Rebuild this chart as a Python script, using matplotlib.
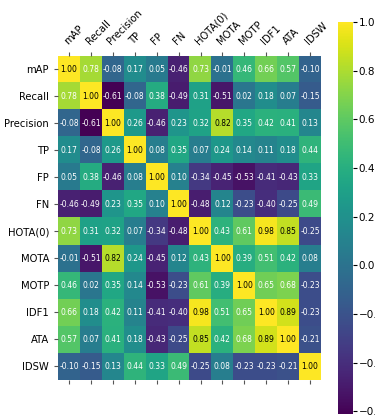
import numpy as np
import matplotlib
matplotlib.use("Agg")
import matplotlib.pyplot as plt

labels = ["mAP", "Recall", "Precision", "TP", "FP", "FN",
          "HOTA(0)", "MOTA", "MOTP", "IDF1", "ATA", "IDSW"]

# correlation rows
row_map = [1.00, 0.78, -0.08, 0.17, 0.05, -0.46, 0.73, -0.01, 0.46, 0.66, 0.57, -0.10]
row_recall = [0.78, 1.00, -0.61, -0.08, 0.38, -0.49, 0.31, -0.51, 0.02, 0.18, 0.07, -0.15]
row_precision = [-0.08, -0.61, 1.00, 0.26, -0.46, 0.23, 0.32, 0.82, 0.35, 0.42, 0.41, 0.13]
row_tp = [0.17, -0.08, 0.26, 1.00, 0.08, 0.35, 0.07, 0.24, 0.14, 0.11, 0.18, 0.44]
row_fp = [0.05, 0.38, -0.46, 0.08, 1.00, 0.10, -0.34, -0.45, -0.53, -0.41, -0.43, 0.33]
row_fn = [-0.46, -0.49, 0.23, 0.35, 0.10, 1.00, -0.48, 0.12, -0.23, -0.40, -0.25, 0.49]
row_hota = [0.73, 0.31, 0.32, 0.07, -0.34, -0.48, 1.00, 0.43, 0.61, 0.98, 0.85, -0.25]
row_mota = [-0.01, -0.51, 0.82, 0.24, -0.45, 0.12, 0.43, 1.00, 0.39, 0.51, 0.42, 0.08]
row_motp = [0.46, 0.02, 0.35, 0.14, -0.53, -0.23, 0.61, 0.39, 1.00, 0.65, 0.68, -0.23]
row_idf1 = [0.66, 0.18, 0.42, 0.11, -0.41, -0.40, 0.98, 0.51, 0.65, 1.00, 0.89, -0.23]
row_ata = [0.57, 0.07, 0.41, 0.18, -0.43, -0.25, 0.85, 0.42, 0.68, 0.89, 1.00, -0.21]
row_idsw = [-0.10, -0.15, 0.13, 0.44, 0.33, 0.49, -0.25, 0.08, -0.23, -0.23, -0.21, 1.00]

corr = np.array([row_map, row_recall, row_precision, row_tp, row_fp, row_fn,
                 row_hota, row_mota, row_motp, row_idf1, row_ata, row_idsw])

fig = plt.figure(figsize=(3.75, 4.16), dpi=100)
ax = fig.add_axes([0.155, 0.087, 0.701, 0.779])
cax = fig.add_axes([0.901, 0.005, 0.04, 0.942])

im = ax.imshow(corr, cmap="viridis", aspect="auto", vmin=corr.min(), vmax=1.0)

n = len(labels)
for i in range(n):
    for j in range(n):
        v = corr[i, j]
        ax.text(j, i, f"{v:.2f}", ha="center", va="center", fontsize=5.5,
                color="black" if v >= 0.8 else "white")

ax.set_xticks(range(n))
ax.set_yticks(range(n))
ax.set_xticklabels(labels, rotation=45, ha="left", rotation_mode="anchor")
ax.set_yticklabels(labels)
ax.tick_params(axis="x", top=True, bottom=True, labeltop=True, labelbottom=False,
               labelsize=7.2, length=3, color="#555555")
ax.tick_params(axis="y", labelsize=7.2, length=3, color="#555555")
for s in ax.spines.values():
    s.set_visible(False)

cb = fig.colorbar(im, cax=cax)
cb.set_ticks([1.0, 0.8, 0.6, 0.4, 0.2, 0.0, -0.2, -0.4, -0.6])
cb.ax.tick_params(labelsize=7.5, length=3, pad=1)
cb.outline.set_visible(False)

plt.savefig("out.png", dpi=100)
